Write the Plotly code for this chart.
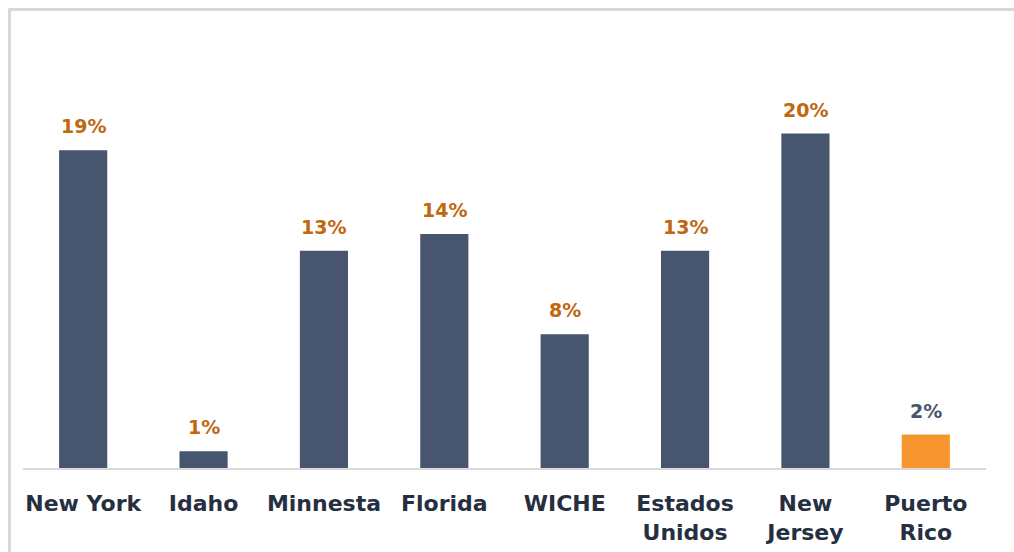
import plotly.graph_objects as go

categories = ["New York", "Idaho", "Minnesta", "Florida", "WICHE", "Estados<br>Unidos", "New<br>Jersey", "Puerto<br>Rico"]
values = [19, 1, 13, 14, 8, 13, 20, 2]
value_labels = ["19%", "1%", "13%", "14%", "8%", "13%", "20%", "2%"]

bar_colors = ["#47556f"] * 7 + ["#f7952f"]
label_colors = ["#c0670f"] * 7 + ["#47556f"]

FONT = "DejaVu Sans"

fig = go.Figure(go.Bar(
    x=categories, y=values,
    marker=dict(color=bar_colors, line=dict(width=0)),
    hoverinfo="skip",
))

for c, v, t, col in zip(categories, values, value_labels, label_colors):
    fig.add_annotation(x=c, y=v, text=t, showarrow=False, yanchor="bottom", yshift=11,
                       font=dict(family=FONT, size=19, color=col, weight="bold"))

# the page margin is removed (see post_script), so figure pixels = screenshot pixels
W, H = 1014, 552
l, t = 23, 50
r = W - 986
b = H - 468
pw, ph = W - l - r, H - t - b

def px2paper_x(px):
    return (px - l) / pw

def px2paper_y(py):
    return (H - b - py) / ph

border = dict(color="#d9d9d9", width=3)
# left and top edges of the outer frame (right/bottom lie outside the picture)
fig.add_shape(type="line", xref="paper", yref="paper",
              x0=px2paper_x(9.5), x1=px2paper_x(9.5), y0=px2paper_y(600), y1=px2paper_y(8),
              line=border, layer="below")
fig.add_shape(type="line", xref="paper", yref="paper",
              x0=px2paper_x(8), x1=px2paper_x(1100), y0=px2paper_y(9.5), y1=px2paper_y(9.5),
              line=border, layer="below")

fig.update_layout(
    width=W, height=H,
    margin=dict(l=l, r=r, t=t, b=b),
    paper_bgcolor="white", plot_bgcolor="white",
    bargap=0.6,
    showlegend=False,
    xaxis=dict(showline=True, linecolor="#d9d9d9", linewidth=2, ticks="", showgrid=False,
               tickfont=dict(family=FONT, size=22, color="#262f3f", weight="bold"),
               ticklabelstandoff=15, automargin=False, fixedrange=True),
    yaxis=dict(range=[0, ph / 16.72], visible=False, showgrid=False, fixedrange=True,
               automargin=False),
)

fig.write_html(
    "out.html",
    config={"displayModeBar": False},
    post_script=("document.documentElement.style.overflow='hidden';"
                 "document.body.style.overflow='hidden';"
                 "document.body.style.margin='0';"),
)
